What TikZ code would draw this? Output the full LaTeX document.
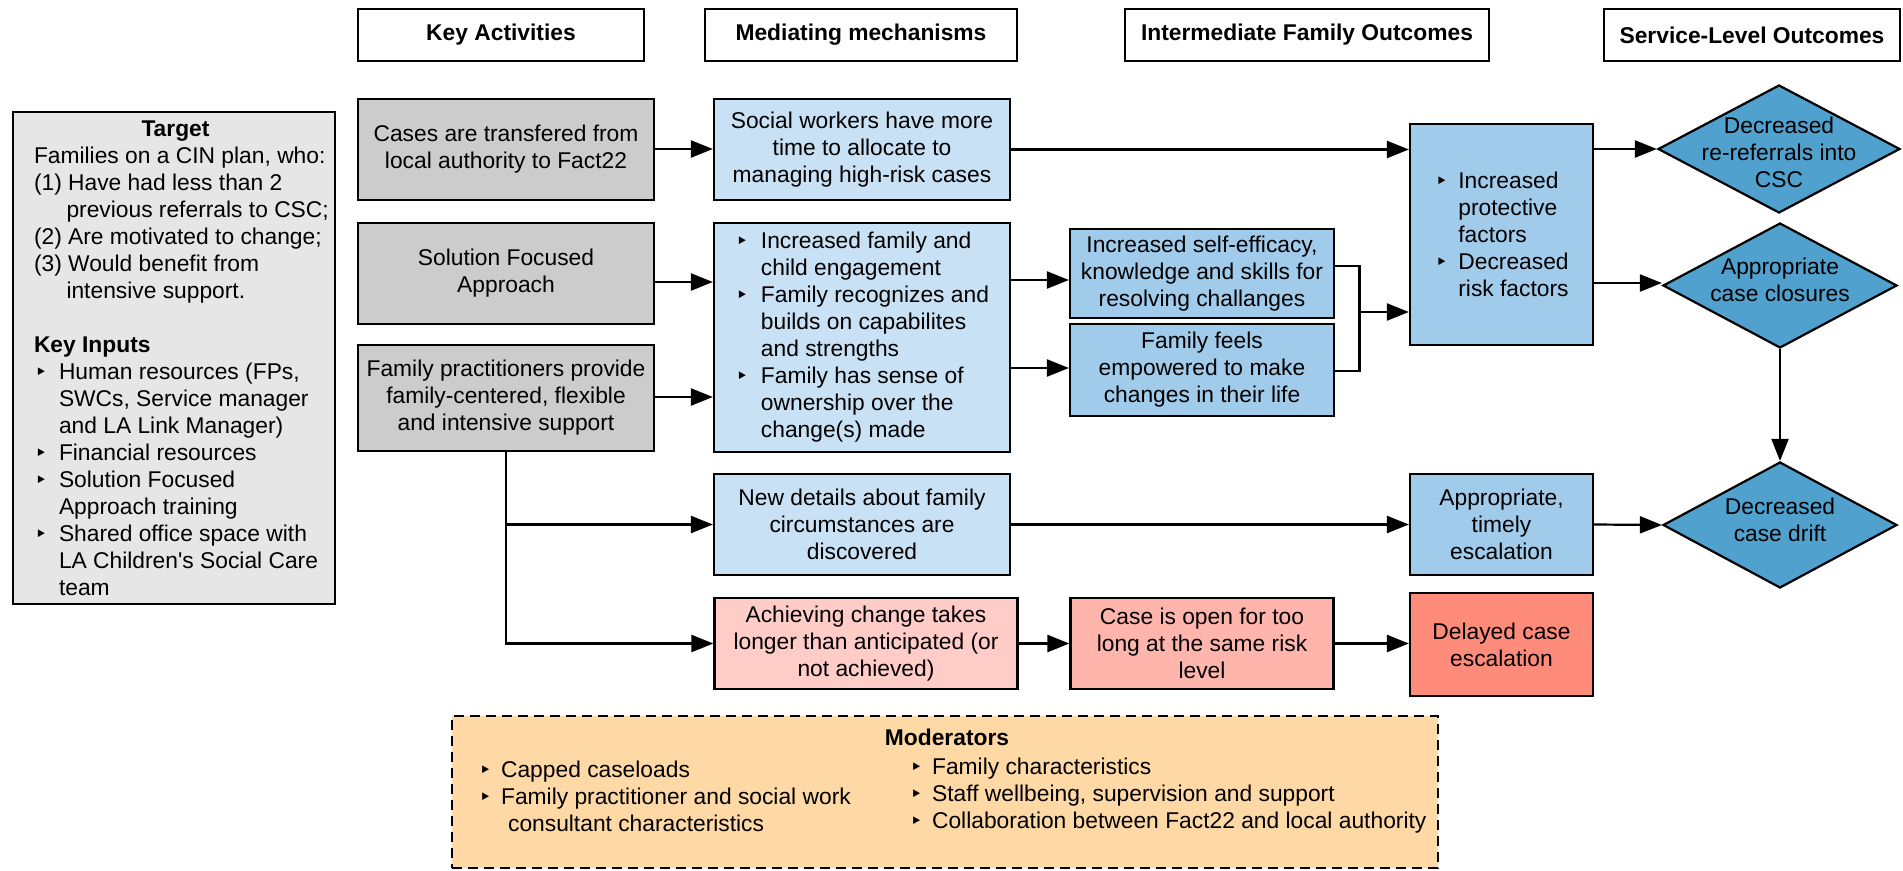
\documentclass[tikz,border=0pt]{standalone}
\usepackage{fontspec}
\setmainfont{Liberation Sans}
\newfontfamily\symfont{DejaVu Sans}
\usetikzlibrary{arrows.meta,shapes.geometric}

\definecolor{kagray}{HTML}{CCCCCC}
\definecolor{panelgray}{HTML}{E6E6E6}
\definecolor{paleblue}{HTML}{C9E1F4}
\definecolor{midblue}{HTML}{A1CBEA}
\definecolor{deepblue}{HTML}{50A1CD}
\definecolor{palered}{HTML}{FFCCC7}
\definecolor{midred}{HTML}{FFB5AC}
\definecolor{deepred}{HTML}{FF8C7B}
\definecolor{modorange}{HTML}{FFD9A5}

% small triangular bullet and a fixed-width bullet slot
\newcommand{\tri}{{\symfont\fontsize{21}{21}\selectfont ‣}}
\newcommand{\bu}[1]{\makebox[#1][l]{\hspace{1pt}\tri}}

\begin{document}
\begin{tikzpicture}[x=1pt,y=-1pt,line width=2.2pt,
  every node/.style={font=\fontsize{22.8}{27}\selectfont, inner sep=0pt},
  bx/.style={draw=black, line width=2.2pt, rectangle, align=center},
  head/.style={bx, fill=white, minimum height=52pt, font=\fontsize{22.8}{27}\selectfont\bfseries},
  act/.style={bx, fill=kagray, minimum width=296pt},
  mech/.style={bx, fill=paleblue, minimum width=296pt},
  inter/.style={bx, fill=midblue},
  dia/.style={draw=black, line width=2.2pt, diamond, fill=deepblue, inner sep=0pt},
  arr/.style={draw=black, line width=2.2pt, -{Triangle[length=22pt,width=17pt]}},
  ln/.style={draw=black, line width=2.2pt}
]
\fill[white] (0,0) rectangle (1903,870);
\useasboundingbox (0,0) rectangle (1903,870);

% column headers
\node[head, minimum width=286pt] (hKA) at (501,35) {Key Activities};
\node[head, minimum width=312pt] (hMM) at (861,35) {Mediating mechanisms};
\node[head, minimum width=364pt] (hIF) at (1307,35) {Intermediate Family Outcomes};
\node[head, minimum width=296pt] (hSL) at (1752,35) {Service-Level Outcomes};

% target and inputs panel
\node[bx, fill=panelgray, minimum width=322pt, minimum height=492pt] (target) at (174,358) {};
\node[anchor=west, align=left] (targettext) at ([xshift=21pt]target.west)
  {\makebox[283pt]{\bfseries Target}\\
   Families on a CIN plan, who:\\
   (1) Have had less than 2\\
   \hspace*{32.5pt}previous referrals to CSC;\\
   (2) Are motivated to change;\\
   (3) Would benefit from\\
   \hspace*{32.5pt}intensive support.\\[27pt]
   \textbf{Key Inputs}\\
   \bu{25pt}Human resources (FPs,\\
   \hspace*{25pt}SWCs, Service manager\\
   \hspace*{25pt}and LA Link Manager)\\
   \bu{25pt}Financial resources\\
   \bu{25pt}Solution Focused\\
   \hspace*{25pt}Approach training\\
   \bu{25pt}Shared office space with\\
   \hspace*{25pt}LA Children\textquotesingle s Social Care\\
   \hspace*{25pt}team};

% key activities
\node[act, minimum height=101pt] (ka1) at (506,149.5) {Cases are transfered from\\local authority to Fact22};
\node[act, minimum height=101pt] (ka2) at (506,273.5) {Solution Focused\\Approach};
\node[act, minimum height=106pt] (ka3) at (506,398) {Family practitioners provide\\family-centered, flexible\\and intensive support};

% mediating mechanisms
\node[mech, minimum height=101pt] (mm1) at (862,149.5) {Social workers have more\\time to allocate to\\managing high-risk cases};
\node[mech, minimum height=229pt, align=left] (mm2) at (862,337.5)
  {\bu{26pt}Increased family and\\
   \hspace*{26pt}child engagement\\
   \bu{26pt}Family recognizes and\\
   \hspace*{26pt}builds on capabilites\\
   \hspace*{26pt}and strengths\\
   \bu{26pt}Family has sense of\\
   \hspace*{26pt}ownership over the\\
   \hspace*{26pt}change(s) made};
\node[mech, minimum height=101pt] (mm3) at (862,524.5) {New details about family\\circumstances are\\discovered};
\node[bx, fill=palered, minimum width=303pt, minimum height=91pt] (mm4) at (866,643.5) {Achieving change takes\\longer than anticipated (or\\not achieved)};

% intermediate family outcomes
\node[inter, minimum width=264pt, minimum height=89pt] (if1) at (1202,273.5) {Increased self-efficacy,\\knowledge and skills for\\resolving challanges};
\node[inter, minimum width=264pt, minimum height=92pt] (if2) at (1202,370) {Family feels\\empowered to make\\changes in their life};
\node[bx, fill=midred, minimum width=263pt, minimum height=91pt] (if3) at (1202,643.5) {Case is open for too\\long at the same risk\\level};
\node[inter, minimum width=183pt, minimum height=221pt, align=left] (pf) at (1501.5,234.5)
  {\bu{24pt}Increased\\
   \hspace*{24pt}protective\\
   \hspace*{24pt}factors\\
   \bu{24pt}Decreased\\
   \hspace*{24pt}risk factors};
\node[inter, minimum width=183pt, minimum height=101pt] (at) at (1501.5,524.5) {Appropriate,\\timely\\escalation};
\node[bx, fill=deepred, minimum width=183pt, minimum height=103pt] (dl) at (1501.5,644.5) {Delayed case\\escalation};

% service-level outcomes
\node[dia, minimum width=242pt, minimum height=128pt] (d1) at (1779,149) {};
\node[align=center] (d1t) at (1779,152) {Decreased\\re-referrals into\\CSC};
\node[dia, minimum width=234pt, minimum height=125pt] (d2) at (1780,285.5) {};
\node[align=center] (d2t) at (1780,279.5) {Appropriate\\case closures};
\node[dia, minimum width=234pt, minimum height=126pt] (d3) at (1780,525) {};
\node[align=center] (d3t) at (1780,520) {Decreased\\case drift};

% moderators
\node[draw=black, line width=2.2pt, dash pattern=on 10pt off 6pt, fill=modorange,
      minimum width=986pt, minimum height=152pt] (mod) at (945,792) {};
\node[font=\fontsize{22.8}{27}\selectfont\bfseries] (modtitle) at (947,737) {Moderators};
\node[anchor=west, align=left] (modleft) at (477,796.5)
  {\bu{23pt}Capped caseloads\\
   \bu{23pt}Family practitioner and social work\\
   \hspace*{30pt}consultant characteristics};
\node[anchor=west, align=left] (modright) at (908,796)
  {\bu{23pt}Family characteristics\\
   \bu{23pt}Staff wellbeing, supervision and support\\
   \bu{23pt}Collaboration between Fact22 and local authority};

% connectors
\draw[arr] (ka1.east |- 0,149) -- (mm1.west |- 0,149);
\draw[arr] (ka2.east |- 0,282) -- (mm2.west |- 0,282);
\draw[arr] (ka3.east |- 0,397) -- (mm2.west |- 0,397);
\draw[arr] (ka3.south) |- (mm4.west);
\draw[arr] (ka3.south |- mm3.west) -- (mm3.west);

\draw[arr] (mm1.east) -- (pf.west |- mm1.east);
\draw[arr] (mm2.east |- 0,280) -- (if1.west |- 0,280);
\draw[arr] (mm2.east |- 0,368) -- (if2.west |- 0,368);
\coordinate (jn) at (1359.5,312);
\draw[ln] (if1.east |- 0,266) -| (jn) |- (if2.east |- 0,371);
\draw[arr] (jn) -- (pf.west |- jn);

\draw[arr] (pf.east |- d1.west) -- (d1.west);
\draw[arr] (pf.east |- 0,283) -- (d2.west |- 0,283);
\draw[arr] (d2.south) -- (d3.north);

\draw[arr] (mm3.east) -- (at.west);
\draw[arr] (at.east) -- (d3.west);
\draw[arr] (mm4.east) -- (if3.west);
\draw[arr] (if3.east) -- (dl.west |- if3.east);
\end{tikzpicture}
\end{document}
